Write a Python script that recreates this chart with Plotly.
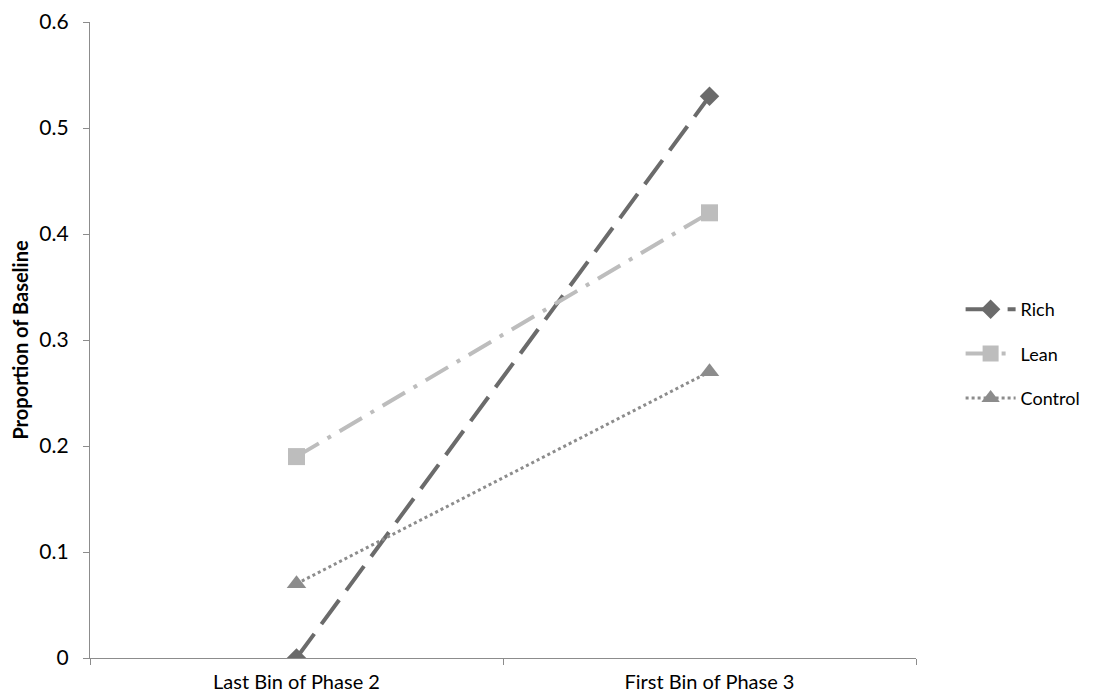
import plotly.graph_objects as go

categories = ["Last Bin of Phase 2", "First Bin of Phase 3"]
rich = [0.0, 0.53]
lean = [0.19, 0.42]
control = [0.07, 0.27]
y_ticks = [0, 0.1, 0.2, 0.3, 0.4, 0.5, 0.6]
y_tick_labels = ["0", "0.1", "0.2", "0.3", "0.4", "0.5", "0.6"]

fig = go.Figure()
fig.add_trace(go.Scatter(x=categories, y=rich, name="Rich", mode="lines+markers", legendgroup="a",
                         line=dict(color="#6b6b6b", width=4, dash="30px,12px"),
                         marker=dict(symbol="diamond", size=15, color="#6b6b6b")))
fig.add_trace(go.Scatter(x=categories, y=lean, name="Lean", mode="lines+markers", legendgroup="b",
                         line=dict(color="#bdbdbd", width=4, dash="26px,10px,4px,10px"),
                         marker=dict(symbol="square", size=17, color="#bdbdbd")))
fig.add_trace(go.Scatter(x=categories, y=control, name="Control", mode="lines+markers", legendgroup="c",
                         line=dict(color="#8c8c8c", width=3, dash="dot"),
                         marker=dict(symbol="triangle-up", size=17, color="#8c8c8c")))

fig.update_layout(
    width=1093, height=696,
    margin=dict(l=82, r=185, t=14, b=46),
    paper_bgcolor="white", plot_bgcolor="white",
    font=dict(family="Lato, Open Sans, sans-serif", size=20, color="#000000"),
    showlegend=True,
    legend=dict(x=1.054, y=0.478, xanchor="left", yanchor="middle",
                font=dict(size=18), tracegroupgap=18, itemwidth=50),
    xaxis=dict(type="category", range=[-0.5, 1.5], tickson="boundaries", automargin=False,
               showline=True, linecolor="#8c8c8c", linewidth=1.3,
               ticks="outside", ticklen=6, tickcolor="#8c8c8c", ticklabelstandoff=6,
               showgrid=False, zeroline=False, tickfont=dict(size=20)),
    yaxis=dict(range=[0, 0.6], tickvals=y_ticks, ticktext=y_tick_labels, automargin=False,
               showline=True, linecolor="#8c8c8c", linewidth=1.3,
               ticks="outside", ticklen=6, tickcolor="#8c8c8c", ticklabelstandoff=10,
               showgrid=False, zeroline=False, tickfont=dict(size=21),
               title=dict(text="<b>Proportion of Baseline</b>", font=dict(size=20), standoff=8)),
)

fig.write_html("out.html")
